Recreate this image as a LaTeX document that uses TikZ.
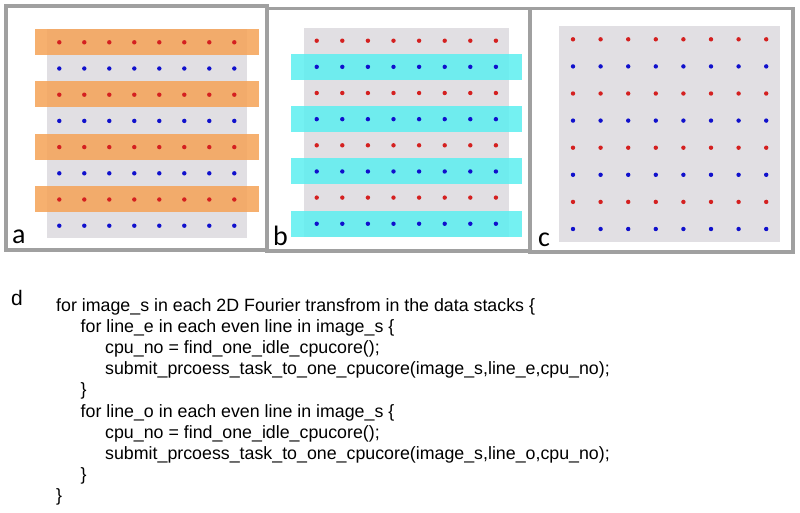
\documentclass[tikz,border=0pt]{standalone}
\usepackage{fontspec}
\setmainfont{Liberation Sans}
\newfontfamily\labelfont{Carlito}
\usepackage{tikz}

\definecolor{framegray}{HTML}{A0A0A0}
\definecolor{panelgray}{HTML}{E1DFE3}
\definecolor{bandorange}{HTML}{F5A256}
\definecolor{bandcyan}{HTML}{5CEFF0}
\definecolor{dotred}{HTML}{D42020}
\definecolor{dotblue}{HTML}{1010CC}

\begin{document}
\begin{tikzpicture}[x=1pt, y=-1pt, frame/.style={draw=framegray, line width=3.5pt}, panel/.style={fill=panelgray}, oband/.style={fill=bandorange, fill opacity=0.85}, cband/.style={fill=bandcyan, fill opacity=0.85}, rdot/.style={fill=dotred}, bdot/.style={fill=dotblue}, lbl/.style={anchor=base west, inner sep=0pt, font=\labelfont\fontsize{28}{28}\selectfont}, code/.style={anchor=base west, inner sep=0pt, font=\fontsize{17.8}{21.2}\selectfont}]
            \useasboundingbox (0,0) rectangle (800,512);
            % panel a
            \fill[panel] (47,29) rectangle (247,238);
            \foreach \r in {0,2,4,6} {
                \fill[oband] (35,29+26.2*\r) rectangle (259,55+26.2*\r);
            }
            \foreach \r in {0,...,7} {
                \foreach \c in {0,...,7} {
                    \pgfmathsetmacro{\px}{59.3+25*\c}
                    \pgfmathsetmacro{\py}{42.3+26.2*\r}
                    \ifodd\r
                        \fill[bdot] (\px,\py) circle (2.2);
                    \else
                        \fill[rdot] (\px,\py) circle (2.2);
                    \fi
                }
            }
            % panel b
            \fill[panel] (304.3,27.7) rectangle (509.3,237);
            \foreach \r in {1,3,5,7} {
                \fill[cband] (291,53.7+26.15*\r-26.15) rectangle (521.7,79.7+26.15*\r-26.15);
            }
            \foreach \r in {0,...,7} {
                \foreach \c in {0,...,7} {
                    \pgfmathsetmacro{\px}{316.7+25.6*\c}
                    \pgfmathsetmacro{\py}{40.7+26.15*\r}
                    \ifodd\r
                        \fill[bdot] (\px,\py) circle (2.2);
                    \else
                        \fill[rdot] (\px,\py) circle (2.2);
                    \fi
                }
            }
            % panel c
            \fill[panel] (559.3,26) rectangle (780,242);
            \foreach \r in {0,...,7} {
                \foreach \c in {0,...,7} {
                    \pgfmathsetmacro{\px}{573+27.6*\c}
                    \pgfmathsetmacro{\py}{39.3+27.1*\r}
                    \ifodd\r
                        \fill[bdot] (\px,\py) circle (2.2);
                    \else
                        \fill[rdot] (\px,\py) circle (2.2);
                    \fi
                }
            }
            % frames
            \draw[frame] (6,6) rectangle (267,250);
            \draw[frame] (267,8.5) rectangle (530,251);
            \draw[frame] (530,8.5) rectangle (793,252);
            % labels
            \node[lbl] (lbla) at (12,243) {a};
            \node[lbl] (lblb) at (273,245) {b};
            \node[lbl] (lblc) at (538,246) {c};
            \node[anchor=base west, inner sep=0pt, font=\fontsize{21}{21}\selectfont] (lbld) at (11,305) {d};
            % code
            \node[code] (code1) at (56,311) {for image\_s in each 2D Fourier transfrom in the data stacks \{};
            \node[code] (code2) at (80.5,332.2) {for line\_e in each even line in image\_s \{};
            \node[code] (code3) at (105,353.4) {cpu\_no = find\_one\_idle\_cpucore();};
            \node[code] (code4) at (105,374.6) {submit\_prcoess\_task\_to\_one\_cpucore(image\_s,line\_e,cpu\_no);};
            \node[code] (code5) at (80.5,395.8) {\}};
            \node[code] (code6) at (80.5,417) {for line\_o in each even line in image\_s \{};
            \node[code] (code7) at (105,438.2) {cpu\_no = find\_one\_idle\_cpucore();};
            \node[code] (code8) at (105,459.4) {submit\_prcoess\_task\_to\_one\_cpucore(image\_s,line\_o,cpu\_no);};
            \node[code] (code9) at (80.5,480.6) {\}};
            \node[code] (code10) at (56,501.8) {\}};
\end{tikzpicture}
\end{document}
